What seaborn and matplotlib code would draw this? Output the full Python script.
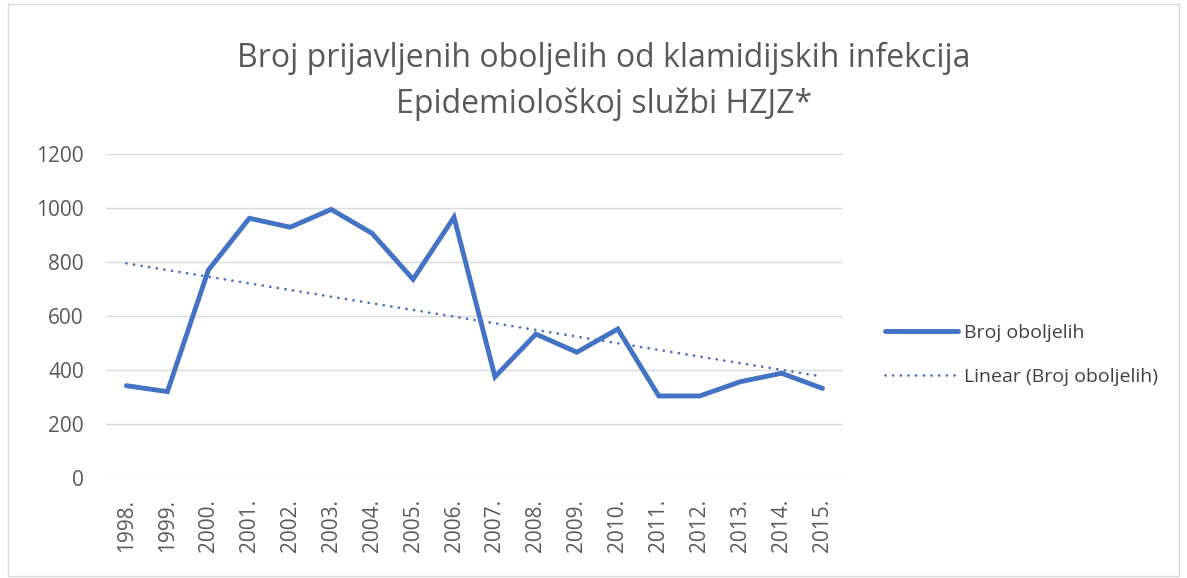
import numpy as np
import pandas as pd
import matplotlib
matplotlib.use("Agg")
import matplotlib.pyplot as plt
import seaborn as sns
from matplotlib.patches import Rectangle

years = ["1998.", "1999.", "2000.", "2001.", "2002.", "2003.", "2004.", "2005.", "2006.",
         "2007.", "2008.", "2009.", "2010.", "2011.", "2012.", "2013.", "2014.", "2015."]
cases = [343, 321, 771, 963, 930, 996, 907, 737, 967,
         376, 534, 467, 553, 305, 305, 358, 389, 333]
yticks = [0, 200, 400, 600, 800, 1000, 1200]
title = "Broj prijavljenih oboljelih od klamidijskih infekcija\nEpidemiološkoj službi HZJZ*"
series_label = "Broj oboljelih"
trend_label = "Linear (Broj oboljelih)"

sns.set_theme(style="white")
plt.rcParams['font.family'] = ['Open Sans', 'DejaVu Sans']

df = pd.DataFrame({"year": years, "cases": cases})
df["pos"] = np.arange(len(years))
coef = np.polyfit(df["pos"], df["cases"], 1)
df["trend"] = np.polyval(coef, df["pos"])

blue = "#4472C4"
fig = plt.figure(figsize=(11.87, 5.78), dpi=100)
ax = fig.add_axes([106 / 1187, 1 - 478.3 / 578, (843 - 106) / 1187, (478.3 - 154.3) / 578])

sns.lineplot(data=df, x="pos", y="cases", ax=ax, color=blue, linewidth=3.5,
             label=series_label, solid_capstyle="round", solid_joinstyle="miter")
sns.lineplot(data=df, x="pos", y="trend", ax=ax, color=blue, linewidth=2.0,
             linestyle=(0, (0.01, 2.75)), dash_capstyle="round", label=trend_label)

ax.set_xlim(-0.5, len(years) - 0.5)
ax.set_ylim(0, 1200)
ax.set_yticks(yticks)
ax.set_yticklabels([str(v) for v in yticks])
ax.set_xticks(df["pos"])
ax.set_xticklabels(years, rotation=90)
ax.set_xlabel("")
ax.set_ylabel("")
ax.grid(axis="y", color="#D9D9D9", linewidth=1.0)
ax.set_axisbelow(True)
for s in ax.spines.values():
    s.set_visible(False)
ax.tick_params(axis="both", length=0, labelsize=15, colors="#595959")
ax.tick_params(axis="y", pad=16)
ax.tick_params(axis="x", pad=15)

fig.text(0.509, 0.928, title, ha="center", va="top", fontsize=23,
         color="#595959", linespacing=1.5)

leg = ax.legend(loc="center left", bbox_to_anchor=((885 - 106) / 737, 0.38), frameon=False,
                fontsize=14, handlelength=3.75, labelspacing=1.35, handletextpad=0.3,
                borderpad=0, borderaxespad=0)
for t in leg.get_texts():
    t.set_color("#404040")

fig.patches.append(Rectangle((8 / 1187, 0.003), 1 - 16 / 1187, 0.99, transform=fig.transFigure,
                             fill=False, edgecolor="#D9D9D9", linewidth=1))
fig.savefig("out.png", dpi=100)
